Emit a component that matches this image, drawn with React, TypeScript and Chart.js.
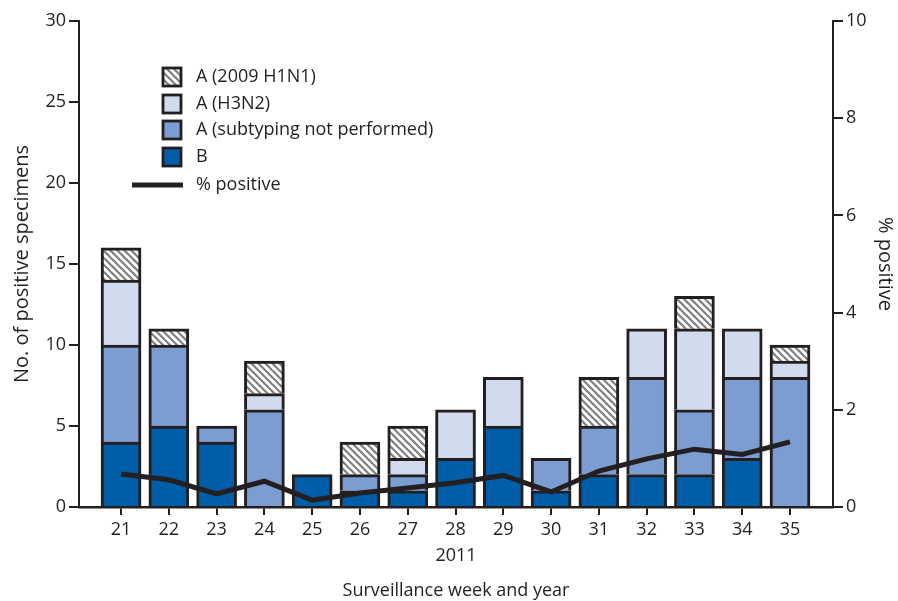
import React, { useEffect, useRef } from "react";
import { Chart, registerables } from "chart.js";

Chart.register(...registerables);

const weeks = [21, 22, 23, 24, 25, 26, 27, 28, 29, 30, 31, 32, 33, 34, 35];
const typeB = [4, 5, 4, 0, 2, 1, 1, 3, 5, 1, 2, 2, 2, 3, 0];
const typeANotSubtyped = [6, 5, 1, 6, 0, 1, 1, 0, 0, 2, 3, 6, 4, 5, 8];
const typeAH3N2 = [4, 0, 0, 1, 0, 0, 1, 3, 3, 0, 0, 3, 5, 3, 1];
const typeAH1N1 = [2, 1, 0, 2, 0, 2, 2, 0, 0, 0, 3, 0, 2, 0, 1];
const pctPositive = [0.68, 0.56, 0.27, 0.53, 0.14, 0.29, 0.39, 0.5, 0.65, 0.31, 0.74, 0.99, 1.19, 1.08, 1.34];
const leftTicks = [0, 5, 10, 15, 20, 25, 30];
const rightTicks = [0, 2, 4, 6, 8, 10];
const yearLabel = "2011";
const legendLabels = ["A (2009 H1N1)", "A (H3N2)", "A (subtyping not performed)", "B", "% positive"];

const INK = "#231f20";
const FONT = "'Open Sans', 'DejaVu Sans', sans-serif";

function makeHatch(): CanvasPattern | string {
  const c = document.createElement("canvas");
  c.width = 7;
  c.height = 7;
  const g = c.getContext("2d");
  if (!g) return "#ccc";
  g.fillStyle = "#ffffff";
  g.fillRect(0, 0, 7, 7);
  g.strokeStyle = "#7f7f7f";
  g.lineWidth = 2.2;
  for (const k of [-7, 0, 7]) {
    g.beginPath();
    g.moveTo(k - 1, -1);
    g.lineTo(k + 8, 8);
    g.stroke();
  }
  return g.createPattern(c, "repeat") || "#ccc";
}

export default function App() {
  const ref = useRef<HTMLCanvasElement>(null);

  useEffect(() => {
    document.body.style.margin = "0";
    const canvas = ref.current;
    if (!canvas) return;
    const hatch = makeHatch();
    const colors = {
      b: "#005ea8",
      ansp: "#7b9dd2",
      h3: "#d2dbee",
      h1: hatch,
    };
    const barXY = (arr: number[]) => arr.map((v, i) => ({ x: weeks[i], y: v === 0 ? null : v }));
    const lineXY = (arr: number[]) => arr.map((v, i) => ({ x: weeks[i], y: v }));
    const barCommon = {
      type: "bar" as const,
      borderColor: INK,
      borderWidth: { top: 3, left: 3, right: 3, bottom: 0 },
      barThickness: 40,
      yAxisID: "y",
      order: 1,
      borderSkipped: false as const,
    };

    const legendPlugin = {
      id: "customLegend",
      afterDraw(chart: any) {
        const ctx = chart.ctx;
        const a = chart.chartArea;
        const boxX = a.left + 84;
        const textX = a.left + 117;
        const rows = [a.top + 56, a.top + 83, a.top + 109, a.top + 136];
        const fills: any[] = [colors.h1, colors.h3, colors.ansp, colors.b];
        ctx.save();
        ctx.font = `18px ${FONT}`;
        ctx.textBaseline = "middle";
        ctx.fillStyle = INK;
        rows.forEach((y, i) => {
          ctx.fillStyle = fills[i];
          ctx.fillRect(boxX, y - 9, 18, 18);
          ctx.strokeStyle = INK;
          ctx.lineWidth = 2.8;
          ctx.strokeRect(boxX, y - 9, 18, 18);
          ctx.fillStyle = INK;
          ctx.fillText(legendLabels[i], textX, y);
        });
        const ly = a.top + 164;
        ctx.strokeStyle = INK;
        ctx.lineWidth = 5;
        ctx.beginPath();
        ctx.moveTo(a.left + 53, ly);
        ctx.lineTo(a.left + 104, ly);
        ctx.stroke();
        ctx.fillText(legendLabels[4], textX, ly);
        ctx.textAlign = "center";
        ctx.fillText(yearLabel, (a.left + a.right) / 2, a.bottom + 49);
        ctx.restore();
      },
    };

    const chart = new Chart(canvas, {
      type: "bar",
      data: {
        datasets: [
          {
            type: "line" as any,
            label: "% positive",
            data: lineXY(pctPositive),
            borderColor: INK,
            borderWidth: 5,
            pointRadius: 0,
            yAxisID: "y1",
            order: 0,
            fill: false,
            tension: 0,
          } as any,
          { ...barCommon, label: "B", data: barXY(typeB), backgroundColor: colors.b },
          { ...barCommon, label: "A (subtyping not performed)", data: barXY(typeANotSubtyped), backgroundColor: colors.ansp },
          { ...barCommon, label: "A (H3N2)", data: barXY(typeAH3N2), backgroundColor: colors.h3 },
          { ...barCommon, label: "A (2009 H1N1)", data: barXY(typeAH1N1), backgroundColor: colors.h1 as any },
        ],
      },
      options: {
        responsive: false,
        animation: false,
        devicePixelRatio: 1,
        layout: { padding: { top: 21, left: 0, right: 0, bottom: 0 } },
        plugins: {
          legend: { display: false },
          tooltip: { enabled: false },
        },
        scales: {
          x: {
            type: "linear",
            stacked: true,
            offset: false,
            min: 20.12,
            max: 35.9,
            afterBuildTicks: (s: any) => {
              s.ticks = weeks.map((w) => ({ value: w }));
            },
            afterFit: (s: any) => {
              s.height = 94;
            },
            ticks: {
              autoSkip: false,
              maxRotation: 0,
              padding: 4,
              color: INK,
              font: { family: FONT, size: 18 },
              callback: (v: any) => String(v),
            },
            grid: {
              display: true,
              drawOnChartArea: false,
              drawTicks: true,
              offset: false,
              tickLength: 8,
              color: INK,
              lineWidth: 2,
            },
            border: { display: true, color: INK, width: 2.5 },
            title: {
              display: true,
              text: "Surveillance week and year",
              color: INK,
              font: { family: FONT, size: 18 },
              padding: { top: 0, bottom: -1 },
            },
          },
          y: {
            type: "linear",
            position: "left",
            stacked: true,
            min: 0,
            max: 30,
            afterBuildTicks: (s: any) => {
              s.ticks = leftTicks.map((v) => ({ value: v }));
            },
            afterFit: (s: any) => {
              s.width = 79;
            },
            ticks: {
              padding: 3,
              color: INK,
              font: { family: FONT, size: 18 },
            },
            grid: {
              display: true,
              drawOnChartArea: false,
              drawTicks: true,
              tickLength: 10,
              color: INK,
              lineWidth: 2,
            },
            border: { display: true, color: INK, width: 2 },
            title: {
              display: true,
              text: "No. of positive specimens",
              color: INK,
              font: { family: FONT, size: 20 },
              padding: { top: 10, bottom: 0 },
            },
          },
          y1: {
            type: "linear",
            position: "right",
            min: 0,
            max: 10,
            afterBuildTicks: (s: any) => {
              s.ticks = rightTicks.map((v) => ({ value: v }));
            },
            afterFit: (s: any) => {
              s.width = 65;
            },
            ticks: {
              padding: 3,
              color: INK,
              font: { family: FONT, size: 18 },
            },
            grid: {
              display: true,
              drawOnChartArea: false,
              drawTicks: true,
              tickLength: 10,
              color: INK,
              lineWidth: 2,
            },
            border: { display: true, color: INK, width: 2 },
            title: {
              display: true,
              text: "% positive",
              color: INK,
              font: { family: FONT, size: 20 },
              padding: { top: 1, bottom: 0 },
            },
          },
        },
      },
      plugins: [legendPlugin],
    });

    return () => chart.destroy();
  }, []);

  return (
    <div style={{ width: 898, height: 601, background: "#fff" }}>
      <canvas ref={ref} width={898} height={601} />
    </div>
  );
}
